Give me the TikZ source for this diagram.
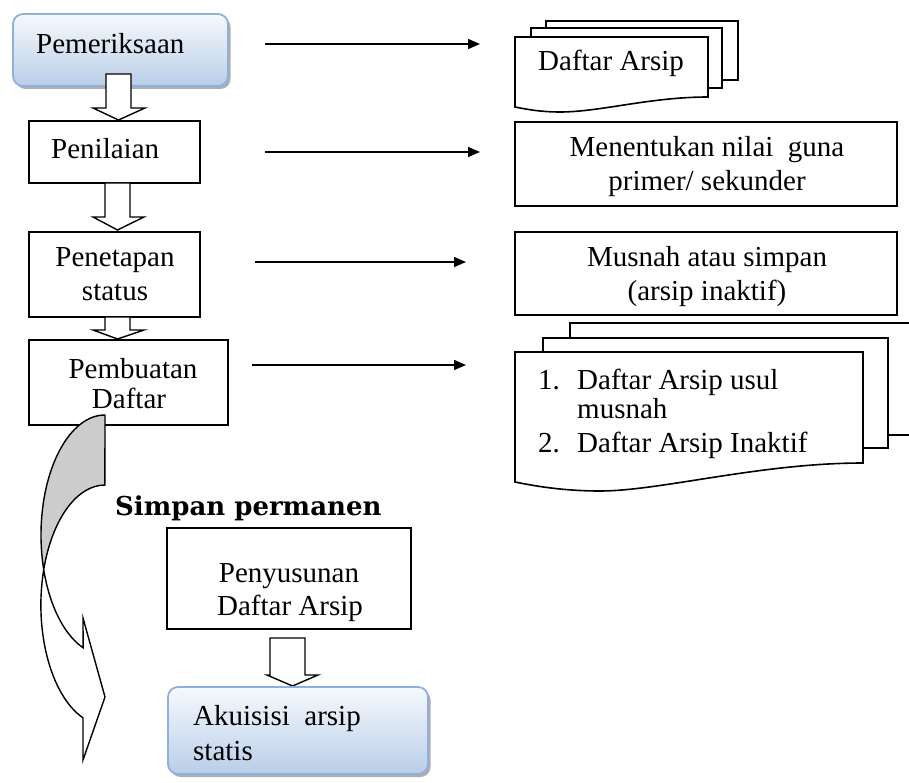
\documentclass[tikz,border=0pt]{standalone}
\usepackage{fontspec}
\setmainfont{Liberation Serif}
\newfontfamily\headfont{DejaVu Serif}
\usetikzlibrary{fit,shadows,arrows.meta}
\definecolor{softtop}{HTML}{F6F9FD}
\definecolor{softbottom}{HTML}{B9CEE8}
\definecolor{softedge}{HTML}{8DB1DC}
\definecolor{bandgray}{HTML}{CCCCCC}

\begin{document}
\begin{tikzpicture}[x=1pt,y=-1pt,
  every node/.style={font=\fontsize{29}{34}\selectfont},
  stepbox/.style={draw=black, line width=1.6pt, inner sep=0pt},
  softbox/.style={draw=softedge, line width=1.8pt, rounded corners=10pt, inner sep=0pt,
    top color=softtop, bottom color=softbottom,
    drop shadow={shadow xshift=2.5pt, shadow yshift=-3pt, fill=black!45, opacity=0.7}},
  lbl/.style={inner sep=0pt},
  hollow/.style={draw=black, line width=1.4pt, fill=white, line join=miter},
  link/.style={draw=black, line width=1.5pt, -{Triangle[length=12pt,width=10pt]}},
  page/.style={draw=black, line width=1.6pt, fill=white, line join=miter}]

\useasboundingbox (0,0) rectangle (909,783);

% ---------- left column: process steps ----------
\node[softbox, fit={(13,14) (228,86)}] (pem) {};
\node[lbl, anchor=base west] (pemtxt) at (36,54) {Pemeriksaan};

\node[stepbox, fit={(29,121) (200,183)}] (nil) {};
\node[lbl, anchor=base west] (niltxt) at (51,159) {Penilaian};

\node[stepbox, fit={(29,232) (200,317)}] (tet) {};
\node[lbl, anchor=base] (tettxt1) at (115,267) {Penetapan};
\node[lbl, anchor=base] (tettxt2) at (115,300) {status};

\node[stepbox, fit={(29,340) (228,425)}] (buat) {};
\node[lbl, anchor=base] (buattxt1) at (133,378) {Pembuatan};
\node[lbl, anchor=base] (buattxt2) at (129,408) {Daftar};

% hollow block arrows between the steps
\draw[hollow] (106,74) -- (131,74) -- (131,108) -- (145,108) -- (118.5,120)
  -- (93,108) -- (106,108) -- cycle;
\draw[hollow] (105,183) -- (130,183) -- (130,217) -- (144,217) -- (117.5,230)
  -- (93,217) -- (105,217) -- cycle;
\draw[hollow] (105,317) -- (130,317) -- (130,330) -- (144,330) -- (117.5,339)
  -- (93,330) -- (105,330) -- cycle;

% ---------- right column: results ----------
% stacked documents: list of archives
\draw[page] (546,28) -- (546,21) -- (738,21) -- (738,80) -- (722,80);
\draw[page] (531,37) -- (531,28) -- (722,28) -- (722,88) -- (708,88);
\draw[page] (515,37) -- (708,37) -- (708,97)
  .. controls (650,97) and (600,112) .. (560,112)
  .. controls (540,112) and (525,109) .. (515,107) -- cycle;
\node[lbl, anchor=base west] (doc1txt) at (538,71) {Daftar Arsip};

\node[stepbox, fit={(515,122) (897,206)}] (nilai) {};
\node[lbl, anchor=base] (nilaitxt1) at (707,157) {Menentukan nilai\ \ guna};
\node[lbl, anchor=base] (nilaitxt2) at (707,191) {primer/ sekunder};

\node[stepbox, fit={(515,232) (897,315)}] (musnah) {};
\node[lbl, anchor=base] (musnahtxt1) at (707,267) {Musnah atau simpan};
\node[lbl, anchor=base] (musnahtxt2) at (707,300) {(arsip inaktif)};

% stacked documents: proposed and inactive lists
\draw[page] (570,338) -- (570,323) -- (915,323) -- (915,435) -- (888,435);
\draw[page] (543,352) -- (543,338) -- (888,338) -- (888,448) -- (863,448);
\draw[page] (515,352) -- (863,352) -- (863,463)
  .. controls (760,463) and (660,491) .. (600,491)
  .. controls (560,491) and (530,485) .. (515,482) -- cycle;
\node[lbl, anchor=base west] (doc2num1) at (538,389) {1.};
\node[lbl, anchor=base west] (doc2txt1) at (577,389) {Daftar Arsip usul};
\node[lbl, anchor=base west] (doc2txt2) at (577,418) {musnah};
\node[lbl, anchor=base west] (doc2num2) at (538,452) {2.};
\node[lbl, anchor=base west] (doc2txt3) at (577,452) {Daftar Arsip Inaktif};

% connectors from steps to results
\coordinate (l1s) at (265,44);  \coordinate (l1e) at (480,44);
\coordinate (l2s) at (265,152); \coordinate (l2e) at (480,152);
\coordinate (l3s) at (255,262); \coordinate (l3e) at (466,262);
\coordinate (l4s) at (252,365); \coordinate (l4e) at (466,365);
\draw[link] (l1s) -- (l1e);
\draw[link] (l2s) -- (l2e);
\draw[link] (l3s) -- (l3e);
\draw[link] (l4s) -- (l4e);

% ---------- permanent storage branch ----------
% curved band arrow: shaded back face, then the outline
\fill[bandgray] (105,415) arc[start angle=270, end angle=163.04, x radius=64, y radius=120]
  arc[start angle=196.96, end angle=270, x radius=64, y radius=120] -- cycle;
\draw[draw=black, line width=1.4pt, line join=miter]
  (105,415) arc[start angle=270, end angle=110, x radius=64, y radius=120]
  -- (83,618) -- (105,697) -- (83,760) -- (83,717.8)
  arc[start angle=110, end angle=270, x radius=64, y radius=120] -- cycle;

\node[lbl, anchor=base west, font=\headfont\bfseries\fontsize{26}{31}\selectfont] (simpan) at (115,515) {Simpan permanen};

\node[stepbox, fit={(167,528) (411,629)}] (susun) {};
\node[lbl, anchor=base] (susuntxt1) at (289,582) {Penyusunan};
\node[lbl, anchor=base] (susuntxt2) at (290,615) {Daftar Arsip};

\draw[hollow] (270,638) -- (305,638) -- (305,675) -- (318,675) -- (292.5,686)
  -- (267,675) -- (270,675) -- cycle;

\node[softbox, fit={(168,687) (428,774)}] (akui) {};
\node[lbl, anchor=base west] (akuitxt1) at (193,725) {Akuisisi\ \ arsip};
\node[lbl, anchor=base west] (akuitxt2) at (193,760) {statis};
\end{tikzpicture}
\end{document}
